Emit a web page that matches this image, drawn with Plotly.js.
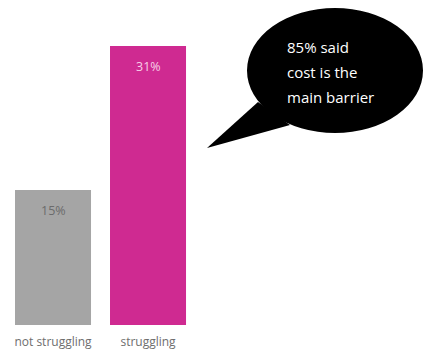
<!DOCTYPE html>
<html><head><meta charset="utf-8">
<script src="https://cdn.plot.ly/plotly-3.0.1.min.js"></script>
<style>html,body{margin:0;padding:0;background:#fff}#chart{width:424px;height:350px}</style>
</head><body><div id="chart"></div>
<script>
const categories = ["not struggling", "struggling"];
const values = [15, 31];
const barColors = ["#a5a5a5", "#cf2a91"];
const labelColors = ["#6b6b6b", "#f7d0e8"];
const bubbleLines = ["85% said", "cost is the", "main barrier"];

const W = 424, H = 325;
const px = x => x / W, py = y => 1 - y / H;

const annotations = categories.map((c, i) => ({
  x: c, y: values[i], xref: 'x', yref: 'y', text: values[i] + '%',
  showarrow: false, yanchor: 'middle', yshift: -21,
  font: {family: 'Open Sans', size: 12.5, color: labelColors[i]}
}));
bubbleLines.forEach((t, i) => annotations.push({
  x: px(285), y: py(47 + 25 * i), xref: 'paper', yref: 'paper', text: t,
  showarrow: false, xanchor: 'left', yanchor: 'middle',
  font: {family: 'Open Sans', size: 15, color: '#ffffff'}
}));

const tail = `M ${px(258)} ${py(102)} L ${px(207)} ${py(148)} L ${px(290)} ${py(125)} Z`;

Plotly.newPlot('chart', [{
  type: 'bar', x: categories, y: values, width: 0.8,
  marker: {color: barColors}, hoverinfo: 'none'
}], {
  width: 424, height: 350,
  margin: {l: 0, r: 0, t: 0, b: 25},
  paper_bgcolor: '#fff', plot_bgcolor: '#fff',
  showlegend: false,
  xaxis: {range: [-0.558, 3.905], showgrid: false, zeroline: false, showline: false,
    ticks: '', ticklabelstandoff: 8, tickfont: {family: 'Open Sans', size: 12, color: '#6e6e6e'}, fixedrange: true},
  yaxis: {range: [0, 36.1], visible: false, fixedrange: true},
  shapes: [
    {type: 'path', xref: 'paper', yref: 'paper', path: tail, fillcolor: '#000', line: {width: 0}, layer: 'above'},
    {type: 'circle', xref: 'paper', yref: 'paper', x0: px(247), x1: px(423), y0: py(133), y1: py(8),
     fillcolor: '#000', line: {width: 0}, layer: 'above'}
  ],
  annotations: annotations
}, {displayModeBar: false, staticPlot: true});
</script></body></html>
